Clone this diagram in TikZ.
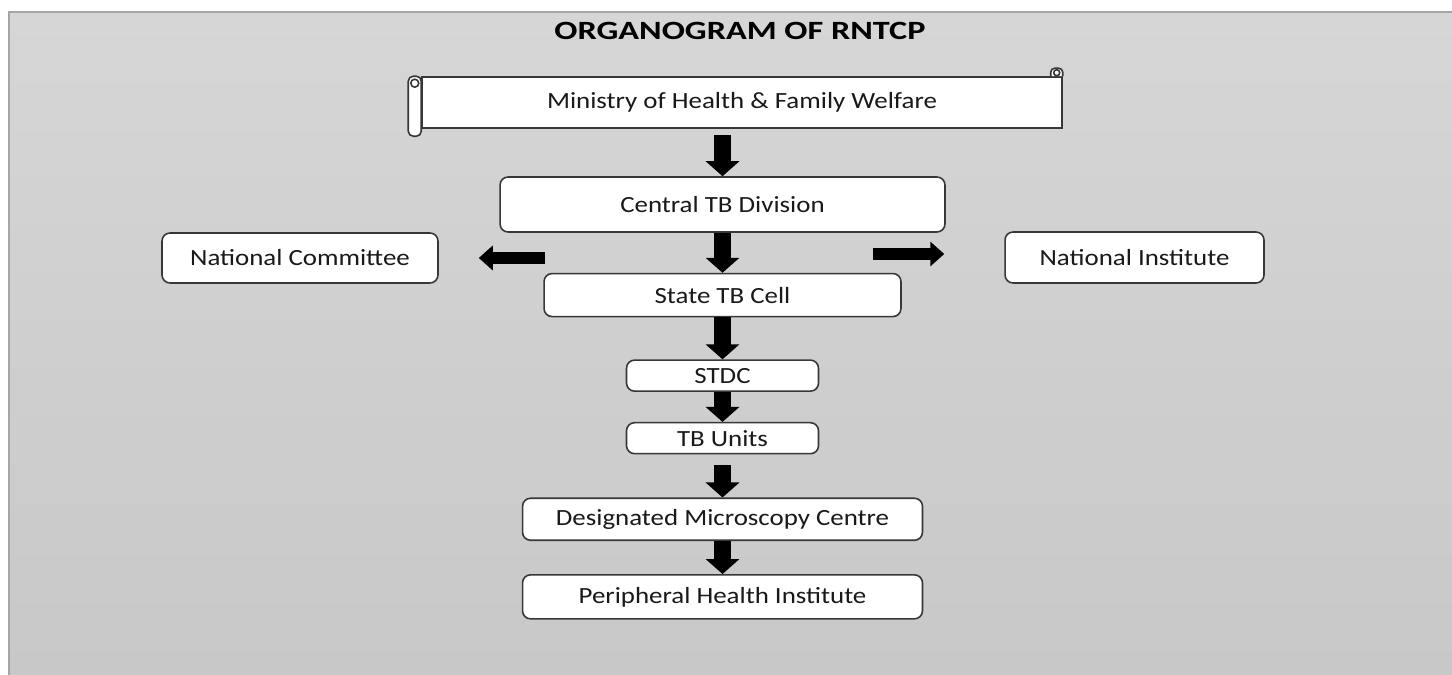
\documentclass[tikz,border=0pt]{standalone}
\usepackage{fontspec}
\setmainfont{Carlito}[FakeStretch=1.16]
\newfontfamily\titlefont{Carlito}[FakeStretch=1.3]
\usepackage{tikz}
\usetikzlibrary{positioning, arrows.meta, calc}

\definecolor{bgtop}{RGB}{214,214,214}
\definecolor{bgbottom}{RGB}{200,200,200}
\definecolor{boxline}{RGB}{55,55,55}
\definecolor{boxtext}{RGB}{25,25,25}

\begin{document}
\begin{tikzpicture}[
    x=0.02cm, y=-0.02cm,
    process/.style={rectangle, draw=boxline, line width=0.9pt, rounded corners=0.16cm, fill=white,
      inner sep=0pt, align=center, text=boxtext, font=\fontsize{13.2}{15}\selectfont},
    scrollbox/.style={rectangle, draw=boxline, line width=0.9pt, fill=white, inner sep=0pt,
      text=boxtext, font=\fontsize{13.2}{15}\selectfont},
    scrollpart/.style={draw=boxline, line width=0.9pt, fill=white},
    arrow/.style={black, line width=0.34cm, -{Triangle[width=0.66cm, length=0.3cm]}},
    sidearrow/.style={black, line width=0.24cm, -{Triangle[width=0.48cm, length=0.28cm]}}
  ]
    % background
    \useasboundingbox (0,0) rectangle (1452,675);
    \shade[top color=bgtop, bottom color=bgbottom] (9,12) rectangle (1452,675);
    \draw[gray!70, line width=0.6pt] (9,675) -- (9,12) -- (1452,12);

    \node[font=\titlefont\bfseries\fontsize{15}{18}\selectfont] (title) at (740,31) {ORGANOGRAM OF RNTCP};

    % scroll
    \node[scrollbox, minimum width=12.8cm, minimum height=1.02cm] (ministry) at (742,102.5) {Ministry of Health \& Family Welfare};
    \draw[scrollpart, rounded corners=0.1cm] ($(ministry.north west)+(-13,0)$) rectangle ($(ministry.north west)+(0,60)$);
    \draw[scrollpart] ($(ministry.north west)+(-6.5,7)$) circle[radius=0.08cm];
    \draw[scrollpart, rounded corners=0.08cm] ($(ministry.north east)+(-12,0)$) -- ($(ministry.north east)+(-12,-8)$)
      -- ($(ministry.north east)+(0,-8)$) -- (ministry.north east);
    \draw[scrollpart] ($(ministry.north east)+(-6,-3.5)$) circle[radius=0.06cm];

    \node[process, minimum width=8.9cm, minimum height=1.1cm] (central) at (722.5,204.5) {Central TB Division};
    \node[process, minimum width=5.52cm, minimum height=1.0cm] (committee) at (300,258) {National Committee};
    \node[process, minimum width=5.18cm, minimum height=1.02cm] (institute) at (1134.5,257.5) {National Institute};
    \node[process, minimum width=7.14cm, minimum height=0.86cm, below=0.8cm of central] (state) {State TB Cell};
    \node[process, minimum width=3.84cm, minimum height=0.62cm, below=0.84cm of state] (stdc) {STDC};
    \node[process, minimum width=3.84cm, minimum height=0.62cm, below=0.6cm of stdc] (units) {TB Units};
    \node[process, minimum width=8cm, minimum height=0.84cm, below=0.86cm of units] (dmc) {Designated Microscopy Centre};
    \node[process, minimum width=8cm, minimum height=0.88cm, below=0.66cm of dmc] (phi) {Peripheral Health Institute};

    \coordinate (ltail) at (545,258);
    \coordinate (rtail) at (873,254);

    \draw[arrow, shorten <=0.13cm] (ministry.south -| central.north) -- (central.north);
    \draw[arrow] (central) -- (state);
    \draw[arrow] (state) -- (stdc);
    \draw[arrow] (stdc) -- (units);
    \draw[arrow, shorten <=0.22cm] (units) -- (dmc);
    \draw[arrow] (dmc) -- (phi);
    \draw[sidearrow, shorten >=0.8cm] (ltail) -- (ltail -| committee.east);
    \draw[sidearrow, shorten >=1.2cm] (rtail) -- (rtail -| institute.west);
  \end{tikzpicture}
\end{document}
